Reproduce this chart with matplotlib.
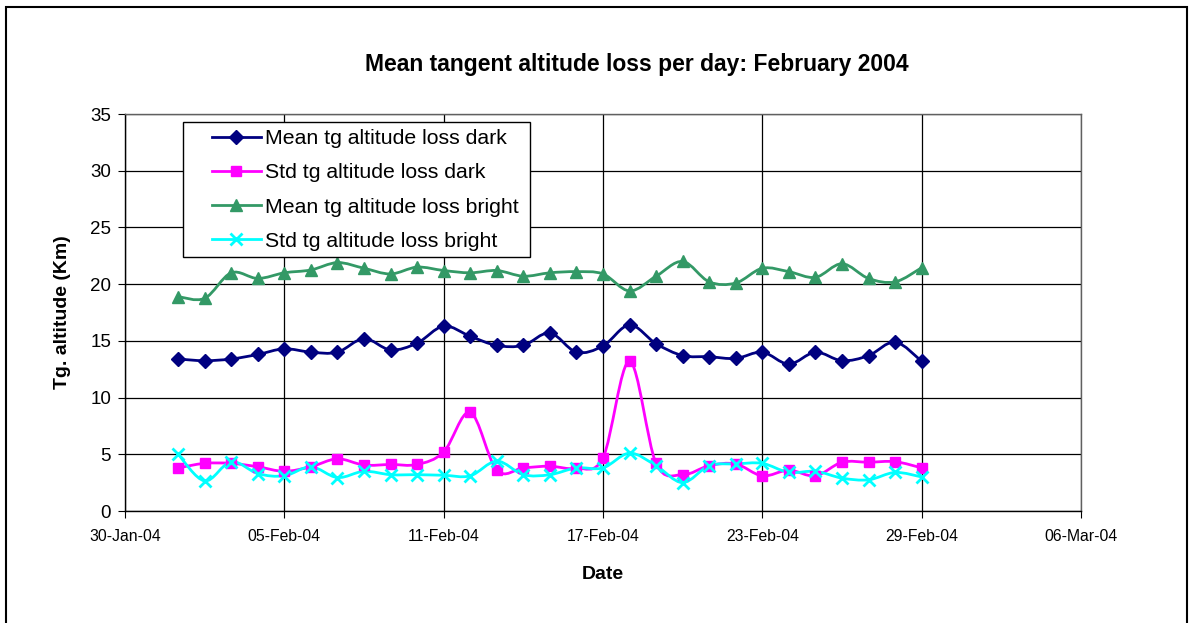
import matplotlib
matplotlib.use('Agg')
import matplotlib.pyplot as plt
import matplotlib.dates as mdates
from matplotlib.path import Path
from matplotlib.patches import PathPatch, Rectangle
from matplotlib.lines import Line2D
import numpy as np
import datetime as dt

plt.rcParams['font.family'] = ['Liberation Sans', 'DejaVu Sans']

# daily values, 1..29 February 2004
days = list(range(1, 30))
mean_dark = [13.4, 13.25, 13.4, 13.8, 14.3, 14.0, 14.0, 15.2, 14.2, 14.8,
             16.3, 15.4, 14.6, 14.6, 15.7, 14.0, 14.55, 16.4, 14.75, 13.7,
             13.6, 13.45, 14.0, 12.95, 14.0, 13.25, 13.7, 14.9, 13.2]
std_dark = [3.8, 4.2, 4.2, 3.9, 3.5, 3.9, 4.6, 4.05, 4.1, 4.1,
            5.2, 8.7, 3.6, 3.8, 3.95, 3.75, 4.7, 13.2, 4.2, 3.2,
            4.0, 4.15, 3.1, 3.6, 3.1, 4.3, 4.3, 4.35, 3.8]
mean_bright = [18.9, 18.75, 21.0, 20.5, 21.0, 21.25, 21.9, 21.4, 20.9, 21.5,
               21.2, 21.0, 21.2, 20.7, 21.0, 21.1, 20.9, 19.4, 20.7, 22.0,
               20.2, 20.1, 21.4, 21.1, 20.6, 21.8, 20.5, 20.2, 21.45]
std_bright = [5.0, 2.65, 4.35, 3.3, 3.1, 3.9, 2.95, 3.5, 3.2, 3.2,
              3.15, 3.1, 4.4, 3.2, 3.2, 3.8, 3.8, 5.1, 4.0, 2.5,
              4.0, 4.15, 4.2, 3.4, 3.5, 2.9, 2.75, 3.4, 3.0]

series = [
    ('Mean tg altitude loss dark', mean_dark, '#000080', 'D', 7),
    ('Std tg altitude loss dark', std_dark, '#FF00FF', 's', 7),
    ('Mean tg altitude loss bright', mean_bright, '#339966', '^', 8),
    ('Std tg altitude loss bright', std_bright, '#00FFFF', 'x', 8),
]

dates = [dt.date(2004, 2, d) for d in days]
xnum = mdates.date2num(dates)


def smooth_path(x, y):
    # excel style smoothed line: bezier segments through every point
    pts = np.column_stack([x, y])
    verts = [pts[0]]
    codes = [Path.MOVETO]
    n = len(pts)
    for i in range(n - 1):
        p0 = pts[i - 1] if i > 0 else pts[i]
        p1 = pts[i]
        p2 = pts[i + 1]
        p3 = pts[i + 2] if i + 2 < n else pts[i + 1]
        c1 = p1 + (p2 - p0) / 6.0
        c2 = p2 - (p3 - p1) / 6.0
        verts += [c1, c2, p2]
        codes += [Path.CURVE4] * 3
    return Path(verts, codes)


W, H = 1193, 623
fig = plt.figure(figsize=(W / 100, H / 100), dpi=100)
ax = fig.add_axes([125 / W, 1 - 511 / H, 956 / W, 397 / H])

handles = []
for label, vals, color, marker, ms in series:
    patch = PathPatch(smooth_path(xnum, vals), facecolor='none',
                      edgecolor=color, lw=2, zorder=3)
    ax.add_patch(patch)
    mew = 2 if marker == 'x' else 1
    ax.plot(dates, vals, ls='none', marker=marker, ms=ms, color=color,
            mec=color, mew=mew, zorder=4)
    handles.append(Line2D([], [], color=color, lw=2, marker=marker,
                          ms=ms, mew=mew, label=label))

ax.set_xlim(dt.date(2004, 1, 30), dt.date(2004, 3, 6))
ax.set_ylim(0, 35)
ax.set_xticks([dt.date(2004, 1, 30) + dt.timedelta(days=6 * i) for i in range(7)])
ax.xaxis.set_major_formatter(mdates.DateFormatter('%d-%b-%y'))
ax.set_yticks(np.arange(0, 36, 5))

ax.grid(True, color='black', lw=0.9)
ax.set_axisbelow(True)
for s in ax.spines.values():
    s.set_color('#606060')
    s.set_linewidth(1)
ax.spines['left'].set_color('black')
ax.spines['bottom'].set_color('black')

ax.tick_params(axis='x', labelsize=11.3, length=5, direction='out', pad=8)
ax.tick_params(axis='y', labelsize=13.5, length=5, direction='out', pad=5)

ax.set_xlabel('Date', fontsize=14, fontweight='bold', labelpad=16)
ax.set_ylabel('Tg. altitude (Km)', fontsize=14, fontweight='bold', labelpad=14)
fig.text(637 / W, 1 - 65 / H, 'Mean tangent altitude loss per day: February 2004',
         ha='center', va='center', fontsize=16.5, fontweight='bold')

# legend box drawn separately (excel leaves a wide left margin)
leg = fig.legend(handles=handles, loc='upper left',
                 bbox_to_anchor=(212 / W, 1 - 129 / H), fontsize=15.3,
                 frameon=False, handlelength=2.3, handletextpad=0.2,
                 borderpad=0, labelspacing=0.72, borderaxespad=0)
fig.patches.append(Rectangle((183 / W, 1 - 257 / H), 347 / W, 135 / H,
                             transform=fig.transFigure, facecolor='white',
                             edgecolor='black', lw=1, zorder=5))
leg.set_zorder(6)

# outer chart border
fig.patches.append(Rectangle((6 / W, -0.02), 1181 / W, 1.02 - 7 / H,
                             transform=fig.transFigure, fill=False,
                             edgecolor='black', lw=1.5))

fig.savefig('out.png', dpi=100)
